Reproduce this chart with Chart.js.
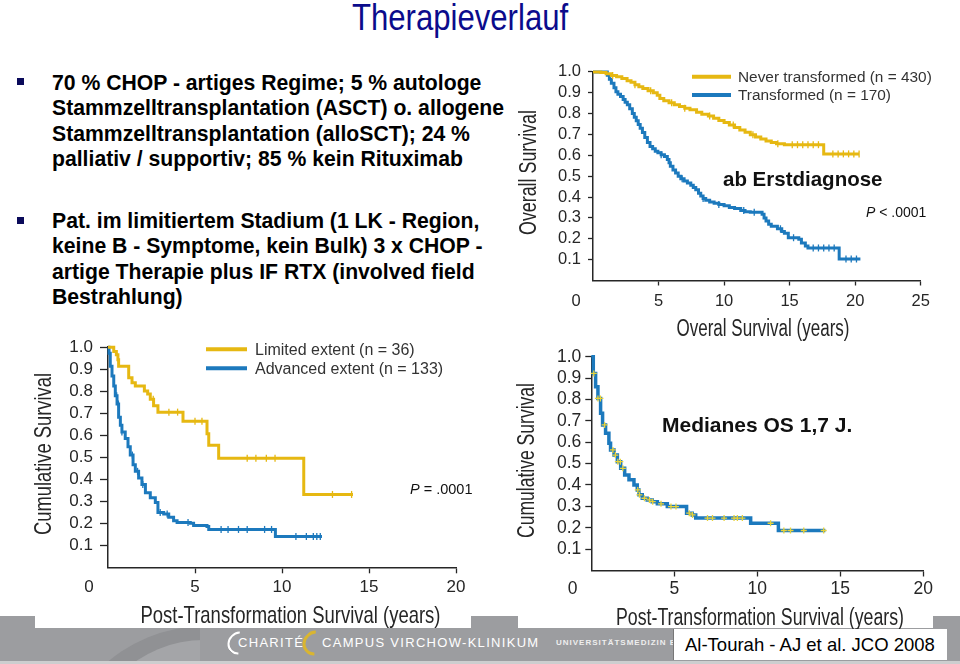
<!DOCTYPE html>
<html>
<head>
<meta charset="utf-8">
<script src="https://cdn.jsdelivr.net/npm/chart.js@4.4.1/dist/chart.umd.min.js"></script>
<style>
html,body{margin:0;padding:0;}
body{width:960px;height:664px;position:relative;overflow:hidden;background:#fff;font-family:"Liberation Sans",Arial,Helvetica,sans-serif;}
.a{position:absolute;}
#band{left:0;top:616px;width:960px;height:45px;background:#9c9da0;overflow:hidden;z-index:0;}
#band2{left:0;top:661px;width:960px;height:3px;background:#cdcecf;z-index:0;}
.circ{position:absolute;border-radius:50%;}
.wbox{background:#fff;z-index:1;}
canvas{position:absolute;z-index:2;}
#title{left:352px;top:0;font-size:36px;line-height:36px;color:#0b0b8c;white-space:nowrap;transform:scaleX(0.864);transform-origin:0 0;z-index:3;}
.bul{left:52px;font-size:21.2px;line-height:25.4px;font-weight:bold;color:#000;white-space:nowrap;z-index:3;}
.sq{width:7px;height:7px;background:#0a0a5a;z-index:3;}
.ann{z-index:3;white-space:nowrap;color:#111;}
.foot{z-index:1;color:#fff;white-space:nowrap;}
#cite{left:673px;top:629px;width:274px;height:31px;background:#fff;z-index:4;border-left:1px solid #777;box-sizing:border-box;}
#citeT{left:685px;top:629px;height:31px;line-height:31px;font-size:18.5px;color:#000;z-index:5;white-space:nowrap;}
</style>
</head>
<body>
<div id="band" class="a">
  <div class="circ" style="left:55px;top:10px;width:300px;height:300px;background:#909194;"></div>
  <div class="circ" style="left:84px;top:24px;width:240px;height:240px;background:#a4a5a8;"></div>
  <div class="a" style="left:200px;top:0;width:760px;height:45px;background:#9c9da0;"></div>
</div>
<div id="band2" class="a"></div>
<div class="a wbox" style="left:35px;top:330px;width:436px;height:298px;"></div>
<div class="a wbox" style="left:518px;top:345px;width:415px;height:283px;"></div>

<!-- footer logo -->
<div class="a foot circ" style="left:228px;top:631px;width:22px;height:24px;border:2px solid #fff;border-right-color:transparent;border-top-color:transparent;transform:rotate(45deg);box-sizing:border-box;"></div>
<div class="a foot" style="left:238px;top:634px;font-size:13px;line-height:18px;letter-spacing:1.3px;">CHARITÉ</div>
<div class="a foot circ" style="left:303px;top:630px;width:24px;height:26px;border:3px solid #d9b531;border-right-color:transparent;border-top-color:transparent;transform:rotate(45deg);box-sizing:border-box;"></div>
<div class="a foot" style="left:322px;top:634px;font-size:13px;line-height:18px;letter-spacing:1.3px;">CAMPUS VIRCHOW-KLINIKUM</div>
<div class="a foot" style="left:556px;top:637px;font-size:8px;line-height:12px;letter-spacing:1px;font-weight:bold;color:#eeeeee;">UNIVERSITÄTSMEDIZIN BERLIN</div>
<div id="cite" class="a"></div>
<div id="citeT" class="a">Al-Tourah - AJ et al. JCO 2008</div>

<div id="title" class="a">Therapieverlauf</div>

<div class="a sq" style="left:17px;top:78px;"></div>
<div class="a bul" style="top:70px;">70 % CHOP - artiges Regime; 5 % autologe<br>Stammzelltransplantation (ASCT) o. allogene<br>Stammzelltransplantation (alloSCT); 24 %<br>palliativ / supportiv; 85 % kein Rituximab</div>
<div class="a sq" style="left:17px;top:217px;"></div>
<div class="a bul" style="top:208px;">Pat. im limitiertem Stadium (1 LK - Region,<br>keine B - Symptome, kein Bulk) 3 x CHOP -<br>artige Therapie plus IF RTX (involved field<br>Bestrahlung)</div>

<canvas id="c1" width="450" height="290" style="left:510px;top:55px;"></canvas>
<canvas id="c2" width="450" height="300" style="left:30px;top:330px;"></canvas>
<canvas id="c3" width="450" height="290" style="left:510px;top:340px;"></canvas>

<div class="a ann" style="left:723px;top:166px;font-size:20.5px;line-height:26px;font-weight:bold;">ab Erstdiagnose</div>
<div class="a ann" style="left:866px;top:203px;font-size:14px;line-height:18px;"><i>P</i> &lt; .0001</div>
<div class="a ann" style="left:410px;top:480px;font-size:14.5px;line-height:18px;"><i>P</i> = .0001</div>
<div class="a ann" style="left:662px;top:412px;font-size:21px;line-height:26px;font-weight:bold;">Medianes OS 1,7 J.</div>

<script>
// ---------- DATA ----------
// Chart 1: Overall survival from initial diagnosis (years)
const osNeverLabel = 'Never transformed (n = 430)';
const osNeverYears = [0, 0.6, 1.0, 1.4, 1.8, 2.2, 2.6, 2.9, 3.2, 3.5, 3.8, 4.2, 4.6, 4.9, 5.1, 5.4, 5.8, 6.2, 6.6, 7.0, 7.4, 7.9, 8.3, 8.8, 9.2, 9.6, 10.0, 10.4, 10.8, 11.2, 11.6, 12.0, 12.4, 12.8, 13.2, 13.6, 14.0, 14.6, 17.6, 20.3];
const osNeverSurv  = [1.0, 0.997, 0.991, 0.983, 0.977, 0.968, 0.958, 0.95, 0.938, 0.929, 0.92, 0.91, 0.9, 0.888, 0.873, 0.862, 0.852, 0.843, 0.834, 0.826, 0.818, 0.806, 0.797, 0.789, 0.778, 0.767, 0.757, 0.745, 0.733, 0.722, 0.711, 0.699, 0.688, 0.678, 0.669, 0.661, 0.656, 0.651, 0.607, 0.607];
const osNeverCensored = [1.5, 3.2, 4.4, 6.0, 7.0, 8.9, 10.7, 12.2, 14.1, 15.2, 15.6, 16.0, 16.4, 16.8, 17.2, 18.3, 18.7, 19.1, 19.5, 19.9, 20.3];

const osTransLabel = 'Transformed (n = 170)';
const osTransYears = [0, 1.09, 1.25, 1.4, 1.6, 1.75, 1.9, 2.1, 2.3, 2.45, 2.62, 2.8, 3.0, 3.15, 3.3, 3.45, 3.6, 3.77, 3.95, 4.15, 4.35, 4.55, 4.75, 4.95, 5.2, 5.45, 5.67, 5.8, 5.9, 6.1, 6.3, 6.5, 6.7, 6.95, 7.2, 7.46, 7.65, 7.84, 8.05, 8.22, 8.4, 8.6, 8.9, 9.24, 9.6, 10.0, 10.4, 10.8, 11.27, 11.6, 12.0, 12.9, 13.05, 13.2, 13.4, 13.6, 14.07, 14.4, 14.6, 14.9, 15.7, 15.9, 16.2, 16.4, 18.78, 20.4];
const osTransSurv  = [1.0, 0.984, 0.965, 0.945, 0.924, 0.905, 0.893, 0.882, 0.868, 0.855, 0.842, 0.823, 0.801, 0.782, 0.766, 0.748, 0.73, 0.709, 0.685, 0.661, 0.642, 0.632, 0.62, 0.612, 0.603, 0.595, 0.58, 0.565, 0.548, 0.53, 0.515, 0.5, 0.488, 0.477, 0.467, 0.457, 0.446, 0.435, 0.418, 0.405, 0.393, 0.385, 0.376, 0.37, 0.364, 0.358, 0.35, 0.345, 0.335, 0.33, 0.327, 0.318, 0.3, 0.285, 0.27, 0.26, 0.248, 0.235, 0.226, 0.205, 0.198, 0.18, 0.165, 0.156, 0.103, 0.103];
const osTransCensored = [5.2, 6.8, 8.4, 9.6, 11.5, 12.3, 14.3, 15.3, 16.8, 17.2, 17.6, 18.0, 18.4, 19.3, 19.7, 20.1];

// Chart 2: Post-transformation survival by extent (years)
const limLabel = 'Limited extent (n = 36)';
const limYears = [0, 0.33, 0.48, 0.57, 0.61, 1.19, 1.38, 1.57, 2.09, 2.28, 2.43, 2.62, 2.87, 4.31, 5.69, 5.79, 6.36, 11.25, 14.08];
const limSurv  = [1.0, 0.981, 0.966, 0.943, 0.913, 0.861, 0.839, 0.824, 0.801, 0.787, 0.764, 0.734, 0.705, 0.663, 0.607, 0.555, 0.496, 0.331, 0.331];
const limCensored = [2.6, 3.5, 4.0, 5.0, 5.4, 8.0, 8.5, 9.1, 9.6, 12.9, 14.0];

const advLabel = 'Advanced extent (n = 133)';
const advYears = [0, 0.06, 0.13, 0.23, 0.33, 0.42, 0.52, 0.61, 0.71, 0.8, 0.99, 1.15, 1.28, 1.44, 1.57, 1.76, 1.95, 2.15, 2.43, 2.72, 2.87, 3.2, 3.49, 3.77, 3.97, 4.73, 4.92, 5.69, 5.79, 9.62, 12.3];
const advSurv  = [1.0, 0.973, 0.913, 0.869, 0.824, 0.779, 0.742, 0.682, 0.645, 0.615, 0.585, 0.548, 0.51, 0.466, 0.436, 0.406, 0.376, 0.339, 0.316, 0.294, 0.249, 0.242, 0.227, 0.212, 0.204, 0.2, 0.19, 0.185, 0.172, 0.14, 0.14];
const advCensored = [0.5, 0.6, 0.8, 1.4, 1.7, 2.0, 3.0, 3.4, 4.6, 6.5, 6.9, 7.5, 8.0, 9.0, 9.4, 10.8, 11.4, 11.8, 12.0, 12.2];

// Chart 3: Post-transformation survival, all transformed patients (years)
const allLabel = 'All transformed';
const allYears = [0, 0.12, 0.26, 0.4, 0.56, 0.68, 0.86, 1.06, 1.16, 1.37, 1.57, 1.77, 2.01, 2.27, 2.57, 2.77, 2.87, 3.07, 3.37, 3.67, 3.98, 4.58, 5.74, 6.08, 6.29, 9.6, 11.27, 14.1];
const allSurv  = [1.0, 0.922, 0.86, 0.805, 0.735, 0.681, 0.642, 0.595, 0.564, 0.54, 0.509, 0.478, 0.447, 0.424, 0.4, 0.377, 0.354, 0.338, 0.33, 0.322, 0.312, 0.299, 0.268, 0.26, 0.245, 0.221, 0.187, 0.187];
const allCensored = [0.15, 0.4, 0.55, 0.8, 1.3, 1.45, 1.6, 1.75, 1.9, 2.8, 2.9, 3.2, 3.5, 3.7, 4.2, 4.8, 5.1, 5.9, 6.1, 7.0, 7.3, 8.0, 8.6, 8.8, 9.1, 10.8, 11.6, 12.0, 12.8, 14.0];

// Axis ticks
const yTickValues = [0.1, 0.2, 0.3, 0.4, 0.5, 0.6, 0.7, 0.8, 0.9, 1.0];
const xTicksTop = [0, 5, 10, 15, 20, 25];
const xTicksBottom = [0, 5, 10, 15, 20];

// ---------- RENDERING ----------
const ARIAL = '"Liberation Sans", Arial, Helvetica, sans-serif';
const YELLOW = '#e6b812';
const BLUE = '#1c79bd';
const INK = '#262626';
Chart.defaults.font.family = ARIAL;

function survAt(ts, ss, t) {
  let v = ss[0];
  for (let i = 0; i < ts.length; i++) { if (ts[i] <= t) v = ss[i]; }
  return v;
}

const kmExtras = {
  id: 'kmExtras',
  afterDraw(chart, args, o) {
    const ctx = chart.ctx;
    const xs = chart.scales.x;
    ctx.save();
    // "0" tick label set off to the left of the origin
    ctx.fillStyle = INK;
    ctx.font = o.tickSize + 'px ' + ARIAL;
    ctx.textAlign = 'center';
    ctx.textBaseline = 'middle';
    ctx.fillText('0', xs.getPixelForValue(0) + o.zeroDx, xs.top + o.xTl + o.xPad + o.tickSize * 0.6);
    // condensed axis titles
    (o.titles || []).forEach(T => {
      ctx.save();
      ctx.font = T.size + 'px ' + ARIAL;
      const w = ctx.measureText(T.text).width;
      ctx.translate(T.x, T.y);
      if (T.rot) ctx.rotate(-Math.PI / 2);
      ctx.scale(T.len / w, 1);
      ctx.fillStyle = INK;
      ctx.textAlign = 'center';
      ctx.textBaseline = 'middle';
      ctx.fillText(T.text, 0, 0);
      ctx.restore();
    });
    // legend
    if (o.legend) {
      const L = o.legend;
      let i = 0;
      chart.data.datasets.forEach(d => {
        if (!d.inLegend) return;
        const y = L.y + i * L.row;
        ctx.strokeStyle = d.borderColor;
        ctx.lineWidth = 4;
        ctx.lineCap = 'butt';
        ctx.beginPath(); ctx.moveTo(L.x, y); ctx.lineTo(L.x + L.len, y); ctx.stroke();
        ctx.fillStyle = '#333';
        ctx.font = L.size + 'px ' + ARIAL;
        ctx.textAlign = 'left';
        ctx.textBaseline = 'middle';
        ctx.fillText(d.label, L.tx, y + 1);
        i++;
      });
    }
    ctx.restore();
  }
};

function kmChart(id, spec) {
  const datasets = [];
  spec.series.forEach(s => {
    datasets.push({
      label: s.label, inLegend: s.inLegend,
      data: s.t.map((t, i) => ({x: t, y: s.s[i]})),
      borderColor: s.color, backgroundColor: s.color,
      borderWidth: spec.lw, stepped: true, pointRadius: 0, pointHoverRadius: 0,
      fill: false, tension: 0, clip: 5, order: 2
    });
    datasets.push({
      label: s.label + ' (censored)', inLegend: false,
      data: s.cens.map(t => ({x: t, y: survAt(s.t, s.s, t)})),
      showLine: false, pointStyle: s.censStyle || 'line', rotation: s.censStyle ? 0 : 90,
      pointRadius: s.censR || 3.5, pointHoverRadius: 0, pointBorderWidth: s.censW || 1.3,
      borderColor: s.censColor || s.color, backgroundColor: s.censColor || s.color,
      clip: false, order: 1
    });
  });
  const tickColor = c => (c.tick && c.tick.value === 0) ? 'rgba(0,0,0,0)' : INK;
  const ex = Object.assign({}, spec.extras, {
    titles: [
      Object.assign({text: spec.xTitle, rot: false}, spec.xTitlePos),
      Object.assign({text: spec.yTitle, rot: true}, spec.yTitlePos)
    ]
  });
  new Chart(document.getElementById(id), {
    type: 'line',
    data: {datasets},
    options: {
      responsive: false, animation: false, events: [],
      layout: {padding: {left: 0, right: spec.padR, top: spec.padT, bottom: 0}},
      plugins: {legend: {display: false}, tooltip: {enabled: false}, kmExtras: ex},
      scales: {
        x: {
          type: 'linear', min: 0, max: spec.xMax,
          afterBuildTicks: s => { s.ticks = spec.xTicks.map(v => ({value: v})); },
          afterFit: s => { s.height = spec.xH; },
          ticks: {color: INK, font: {size: spec.extras.tickSize}, padding: spec.extras.xPad,
                  maxRotation: 0, autoSkip: false, callback: v => v === 0 ? '' : String(v)},
          grid: {drawOnChartArea: false, drawTicks: true, tickLength: spec.extras.xTl, tickColor, tickWidth: 1.3},
          border: {display: true, color: INK, width: 1.5},
          title: {display: false, text: spec.xTitle}
        },
        y: {
          type: 'linear', min: 0, max: 1,
          afterBuildTicks: s => { s.ticks = [0].concat(yTickValues).map(v => ({value: v})); },
          afterFit: s => { s.width = spec.yW; },
          ticks: {color: INK, font: {size: spec.extras.tickSize}, padding: spec.yPad, autoSkip: false,
                  callback: v => v < 0.05 ? '' : v.toFixed(1)},
          grid: {drawOnChartArea: false, drawTicks: true, tickLength: spec.yTl, tickColor, tickWidth: 1.3},
          border: {display: true, color: INK, width: 1.5},
          title: {display: false, text: spec.yTitle}
        }
      }
    },
    plugins: [kmExtras]
  });
}

kmChart('c1', {
  series: [
    {label: osNeverLabel, inLegend: true, t: osNeverYears, s: osNeverSurv, cens: osNeverCensored, color: YELLOW},
    {label: osTransLabel, inLegend: true, t: osTransYears, s: osTransSurv, cens: osTransCensored, color: BLUE}
  ],
  lw: 3, xMax: 25, xTicks: xTicksTop, padR: 39.3, padT: 15.7, xH: 64.5, yW: 83,
  yPad: 7, yTl: 5,
  xTitle: 'Overal Survival (years)', xTitlePos: {x: 253, y: 275, size: 23, len: 173},
  yTitle: 'Overall Survival', yTitlePos: {x: 20, y: 117.5, size: 23, len: 125},
  extras: {tickSize: 16.5, zeroDx: -17, xTl: 5, xPad: 6.3,
           legend: {x: 182, len: 39, tx: 228, y: 21.7, row: 18.3, size: 15.4}}
});

kmChart('c2', {
  series: [
    {label: limLabel, inLegend: true, t: limYears, s: limSurv, cens: limCensored, color: YELLOW},
    {label: advLabel, inLegend: true, t: advYears, s: advSurv, cens: advCensored, color: BLUE}
  ],
  lw: 3, xMax: 20, xTicks: xTicksBottom, padR: 24, padT: 14, xH: 62.7, yW: 78,
  yPad: 7, yTl: 8,
  xTitle: 'Post-Transformation Survival (years)', xTitlePos: {x: 260.5, y: 286, size: 24, len: 300},
  yTitle: 'Cumulative Survival', yTitlePos: {x: 14, y: 124, size: 24, len: 162},
  extras: {tickSize: 17, zeroDx: -19, xTl: 6, xPad: 3.8,
           legend: {x: 176, len: 41, tx: 225, y: 19.3, row: 19, size: 16}}
});

kmChart('c3', {
  series: [
    {label: allLabel, inLegend: false, t: allYears, s: allSurv, cens: allCensored, color: BLUE,
     censColor: '#e8d23a', censStyle: 'cross', censR: 3, censW: 1.3}
  ],
  lw: 3.5, xMax: 20, xTicks: xTicksBottom, padR: 36.7, padT: 16.7, xH: 59.5, yW: 81.3,
  yPad: 4, yTl: 6,
  xTitle: 'Post-Transformation Survival (years)', xTitlePos: {x: 250, y: 279, size: 23.5, len: 288},
  yTitle: 'Cumulative Survival', yTitlePos: {x: 18, y: 120.5, size: 23.5, len: 155},
  extras: {tickSize: 17.5, zeroDx: -18.6, xTl: 6, xPad: 2.3}
});
</script>
</body>
</html>
